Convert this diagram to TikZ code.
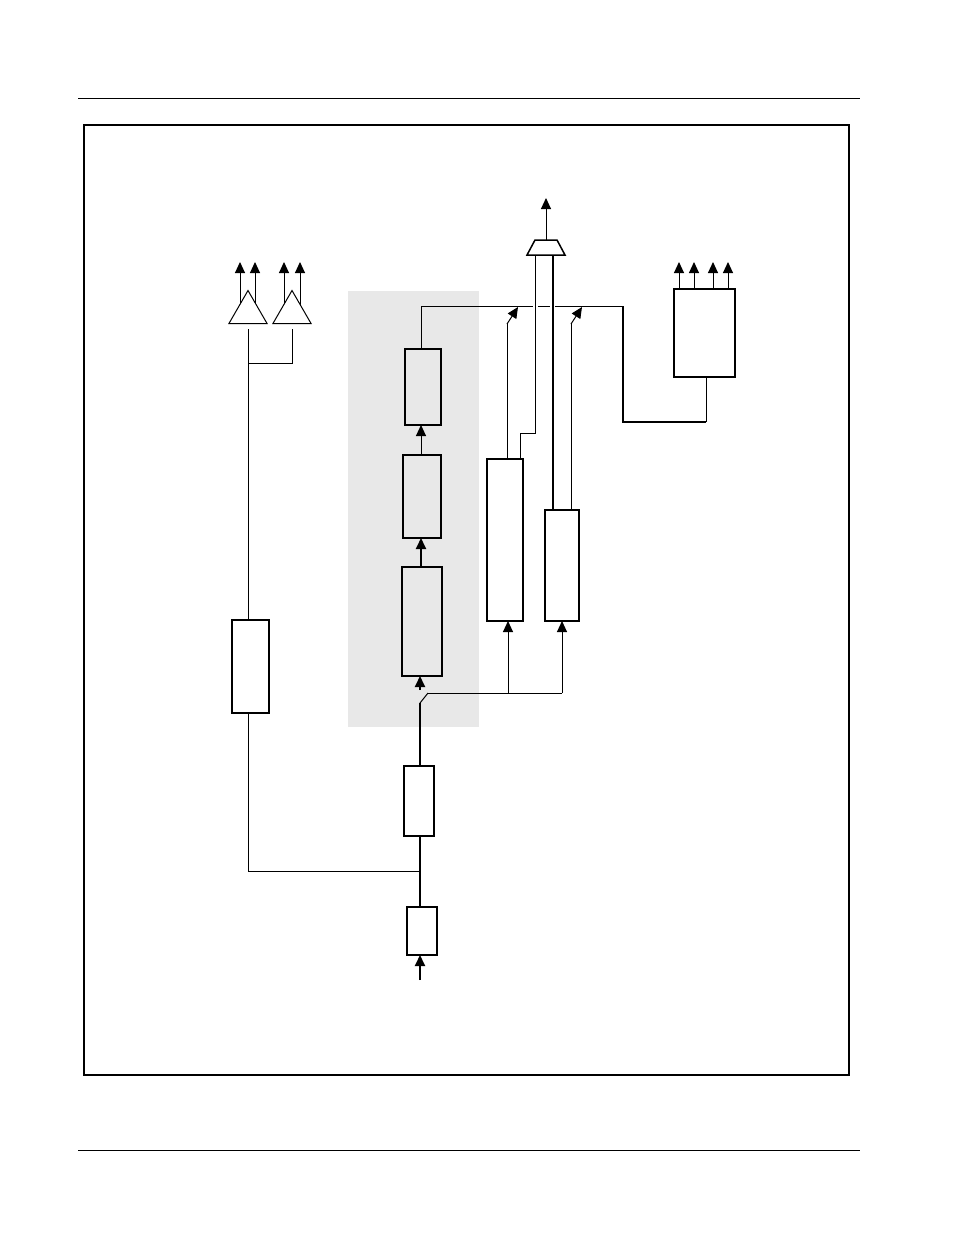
\documentclass[tikz,border=0pt]{standalone}
\usetikzlibrary{calc,positioning,arrows.meta,shapes.geometric}
\tikzset{
  blk/.style={draw,line width=1.5pt,rectangle,inner sep=0pt},
  amp/.style={draw,line width=1pt,isosceles triangle,shape border rotate=90,isosceles triangle apex angle=60,minimum width=38pt,minimum height=33pt,inner sep=0pt,fill=white},
  sig/.style={-{Triangle[length=11pt,width=10pt]}},
  bus/.style={line width=2pt,-{Triangle[length=11pt,width=10pt]}},
  wide/.style={line width=2pt}
}
\begin{document}
\begin{tikzpicture}[x=1pt,y=-1pt,line width=1pt]
  \useasboundingbox (0,0) rectangle (954,1235);
  \draw (78,98) -- (860,98);
  \draw (78,1150) -- (860,1150);
  \draw [line width=1.5pt] (84,125) rectangle (849,1075);
  \fill [gray!18] (348,291) rectangle (479,727);

  % main chain
  \node [blk, minimum width=30pt, minimum height=48pt] at (422,931) (inbox) {};
  \node [blk, minimum width=30pt, minimum height=70pt] at (419,801) (proc) {};
  \node [blk, minimum width=40pt, minimum height=109pt] at (422,621.5) (stage1) {};
  \node [blk, minimum width=38pt, minimum height=83pt] at (422,496.5) (stage2) {};
  \node [blk, minimum width=36pt, minimum height=76pt] at (423,387) (stage3) {};
  \node [blk, minimum width=37pt, minimum height=93pt] at (250.5,666.5) (lbox) {};
  \node [blk, minimum width=36pt, minimum height=162pt] at (505,540) (rbox1) {};
  \node [blk, minimum width=34pt, minimum height=111pt] at (562,565.5) (rbox2) {};
  \node [blk, minimum width=61pt, minimum height=88pt] at (704.5,333) (outbox) {};
  \draw [line width=1.5pt,fill=white] (527,255) -- (535,240) -- (557,240) -- (565,255) -- cycle;
  \coordinate (mux) at (546,240);
  \coordinate (muxout) at (546,198);
  \coordinate (src) at (420,980);

  \draw [bus] (src) -- (420,955);
  \draw [wide] (420,907) -- (420,836);
  \draw [wide] (420,766) -- (420,703);
  \draw (420,703) -- (428,693);
  \draw [bus] (420,690) -- (420,676);
  \draw (428,693) -- (562,693);
  \draw [sig] (508,693) -- (508,621);
  \draw [sig] (562,693) -- (562,621);
  \draw [bus] (421,567) -- (421,538);
  \draw [sig] (421,455) -- (421,425);
  \draw (421,349) -- (421,306) -- (533,306);
  \draw (538,306) -- (550,306);
  \draw (555,306) -- (623,306);
  \draw [line width=1.5pt] (623,306) -- (623,422) -- (706,422);
  \draw (706,422) -- (706,377);

  % switches and mux inputs
  \draw (507,459) -- (507,324);
  \draw [sig] (507,324) -- (518,307);
  \draw (571,510) -- (571,324);
  \draw [sig] (571,324) -- (582,307);
  \draw (520,459) -- (520,433) -- (535,433) -- (535,255);
  \draw [wide] (553,510) -- (553,255);
  \draw [sig] (mux) -- (muxout);

  % amplifiers
  \draw (248,620) -- (248,329);
  \draw (248,363) -- (292,363) -- (292,329);
  \draw (248,713) -- (248,871) -- (420,871);
  \foreach \x in {240,255,284,300} \draw [sig] (\x,305) -- (\x,262);
  \node [amp] at (248,312.5) (amp1) {};
  \node [amp] at (292,312.5) (amp2) {};
  \foreach \x in {679,694,713,728} \draw [sig] (\x,289) -- (\x,262);
\end{tikzpicture}
\end{document}
